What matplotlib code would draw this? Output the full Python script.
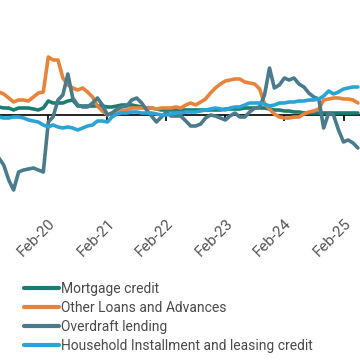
import matplotlib
matplotlib.use('Agg')
import matplotlib.pyplot as plt
import matplotlib.dates as mdates
import pandas as pd

plt.rcParams['font.family'] = ['Roboto', 'DejaVu Sans']

# monthly growth, Apr-2019 .. May-2025
months = pd.date_range('2019-04-01', periods=74, freq='MS')

mortgage = [0.8, 0.7, 0.7, 0.5, 0.7, 0.7, 0.7, 0.6, 0.5, 0.7,
            1.4, 1.2, 1.2, 1.2, 1.4, 1.5, 0.9, 0.9, 0.9, 0.9,
            0.9, 0.9, 0.8, 0.8, 0.9, 1.0, 1.0, 1.0, 0.9, 0.8,
            0.7, 0.7, 0.6, 0.5, 0.5, 0.5, 0.5, 0.5, 0.5, 0.5,
            0.5, 0.5, 0.5, 0.5, 0.5, 0.5, 0.6, 0.6, 0.6, 0.6,
            0.7, 0.7, 0.7, 0.7, 0.7, 0.6, 0.5, 0.5, 0.4, 0.4,
            0.3, 0.3, 0.2, 0.2, 0.2, 0.2, 0.2, 0.2, 0.2, 0.2,
            0.2, 0.2, 0.2, 0.2]

other_loans = [2.3, 2.1, 1.7, 1.3, 1.5, 1.5, 1.4, 1.8, 2.2, 2.3,
               5.8, 5.5, 5.5, 3.7, 3.0, 2.7, 2.5, 2.7, 2.3, 1.8,
               0.9, 0.4, 0.0, 0.2, 0.3, 0.4, 0.5, 0.7, 0.7, 0.7,
               0.7, 0.7, 0.6, 0.7, 0.7, 0.7, 0.8, 0.7, 1.0, 1.2,
               1.0, 1.3, 1.6, 2.2, 2.7, 3.1, 3.4, 3.5, 3.6, 3.6,
               3.3, 3.2, 3.1, 2.6, 1.1, 0.6, 0.1, -0.2, -0.3, -0.3,
               -0.2, -0.2, 0.1, 0.3, 0.4, 0.6, 1.5, 1.6, 1.7, 1.7,
               1.6, 1.6, 1.5, 1.2]

overdraft = [-4.3, -5.0, -6.5, -7.5, -5.7, -5.5, -5.4, -5.3, -5.5, -5.7,
             -0.7, -0.2, 1.5, 2.0, 4.1, 1.7, 1.0, 0.8, 0.8, 1.2,
             1.7, 1.0, 0.0, 0.2, 0.6, 0.8, 0.9, 1.5, 1.7, 1.2,
             0.5, -0.1, -0.7, -0.2, 0.3, -0.1, -0.1, -0.1, -0.6, -1.1,
             -1.1, -0.9, -0.3, 0.0, -0.1, -0.3, -0.5, -0.1, 0.2, -0.2,
             -0.2, 0.3, 0.7, 0.8, 2.0, 4.7, 2.7, 3.0, 3.7, 3.5,
             3.7, 3.1, 2.8, 2.2, 1.8, 1.6, -1.3, 0.2, 0.0, -1.5,
             -2.7, -2.5, -2.8, -3.3]

household = [-0.2, -0.3, -0.3, -0.2, -0.2, -0.3, -0.5, -0.6, -0.7, -1.0,
             -1.2, -1.0, -1.2, -1.3, -1.2, -1.3, -1.5, -1.3, -1.1, -1.0,
             -0.6, -0.6, -0.7, -0.2, 0.1, 0.2, 0.2, 0.3, 0.3, 0.2,
             0.2, 0.2, 0.1, 0.0, 0.0, 0.1, 0.2, 0.2, 0.3, 0.3,
             0.3, 0.4, 0.5, 0.6, 0.7, 0.6, 0.5, 0.7, 0.8, 0.8,
             1.0, 1.2, 1.2, 1.2, 1.1, 0.9, 1.0, 1.2, 1.2, 1.3,
             1.3, 1.4, 1.4, 1.5, 1.5, 1.6, 1.9, 2.4, 2.1, 2.3,
             2.6, 2.7, 2.8, 2.8]

series_names = ['Mortgage credit', 'Other Loans and Advances',
                'Overdraft lending', 'Household Installment and leasing credit']
tick_labels = ['Feb-20', 'Feb-21', 'Feb-22', 'Feb-23', 'Feb-24', 'Feb-25']
tick_dates = pd.to_datetime(['2020-02-01', '2021-02-01', '2022-02-01',
                             '2023-02-01', '2024-02-01', '2025-02-01'])
colors = ['#1b7d72', '#e8843a', '#4a7b8c', '#2aa3d8']

x = mdates.date2num(months)
xt = mdates.date2num(tick_dates)

fig = plt.figure(figsize=(3.6, 3.6), dpi=100)
ax = fig.add_axes([0, 0.375, 1, 0.625])

for vals, name, c in zip([mortgage, other_loans, overdraft, household], series_names, colors):
    ax.plot(x, vals, color=c, lw=2.6, label=name, solid_capstyle='round', zorder=3)

ax.set_xlim(mdates.date2num(pd.Timestamp('2019-04-08')),
            mdates.date2num(pd.Timestamp('2025-05-14')))
ax.set_ylim(-11, 11.5)

# zero line with small ticks, labels placed lower down
for s in ['top', 'right', 'left']:
    ax.spines[s].set_visible(False)
ax.spines['bottom'].set_position(('data', 0))
ax.spines['bottom'].set_linewidth(1.2)
ax.spines['bottom'].set_zorder(2)
ax.set_yticks([])
ax.set_xticks(xt)
ax.tick_params(axis='x', direction='out', length=4, width=1.2, labelbottom=False)

sec = ax.secondary_xaxis(0.045)
sec.spines['bottom'].set_visible(False)
sec.set_xticks(xt, tick_labels)
sec.tick_params(length=0, pad=1, labelsize=11, labelcolor='#555555')
for lab in sec.get_xticklabels():
    lab.set_rotation(45)
    lab.set_ha('right')
    lab.set_rotation_mode('anchor')

leg = fig.legend(loc='upper left', bbox_to_anchor=(0.067, 0.218), frameon=False,
                 fontsize=10, handlelength=2.5, handletextpad=0.12,
                 labelspacing=0.36, borderpad=0, borderaxespad=0)
for h in leg.get_lines():
    h.set_linewidth(3)
for t in leg.get_texts():
    t.set_color('#4a4a4a')

plt.savefig('out.png', dpi=100)
